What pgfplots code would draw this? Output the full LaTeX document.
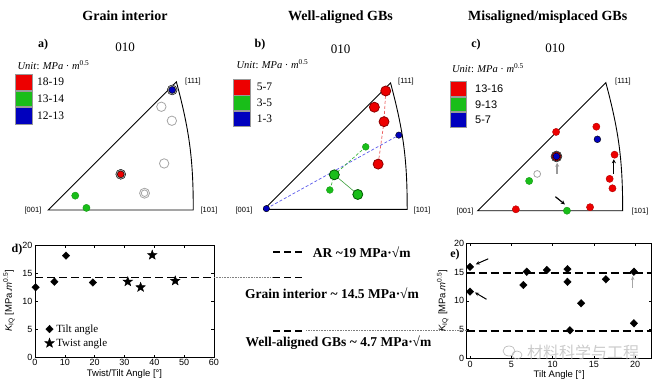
\documentclass[border=0pt]{standalone}
\usepackage{pgfplots}
\pgfplotsset{compat=1.18}
\usepackage{fontspec}
\setmainfont{Liberation Serif}
\setsansfont{Liberation Sans}
\newfontfamily\cjk{Noto Sans CJK SC}
\usetikzlibrary{arrows.meta}
\definecolor{ipfred}{RGB}{237,0,0}
\definecolor{ipfgreen}{RGB}{25,190,25}
\definecolor{ipfblue}{RGB}{0,0,190}
\definecolor{ringgray}{RGB}{165,165,165}

\pgfdeclareplotmark{fstar}{%
  \pgfpathmoveto{\pgfpointpolar{90}{\pgfplotmarksize}}%
  \pgfpathlineto{\pgfpointpolar{126}{0.42\pgfplotmarksize}}%
  \pgfpathlineto{\pgfpointpolar{162}{\pgfplotmarksize}}%
  \pgfpathlineto{\pgfpointpolar{198}{0.42\pgfplotmarksize}}%
  \pgfpathlineto{\pgfpointpolar{234}{\pgfplotmarksize}}%
  \pgfpathlineto{\pgfpointpolar{270}{0.42\pgfplotmarksize}}%
  \pgfpathlineto{\pgfpointpolar{306}{\pgfplotmarksize}}%
  \pgfpathlineto{\pgfpointpolar{342}{0.42\pgfplotmarksize}}%
  \pgfpathlineto{\pgfpointpolar{18}{\pgfplotmarksize}}%
  \pgfpathlineto{\pgfpointpolar{54}{0.42\pgfplotmarksize}}%
  \pgfpathclose
  \pgfusepathqfillstroke}

\pgfplotsset{
  ipf/.style={hide axis, clip=false, anchor=south west,
    xmin=0, xmax=0.4142, ymin=0, ymax=0.366},
  tbox/.style={scale only axis, anchor=south west, clip=false,
    axis line style={line width=0.6pt},
    tick align=inside, major tick length=2.5pt,
    tick style={black, line width=0.5pt},
    ticklabel style={font=\sffamily\fontsize{9}{10}\selectfont},
    xticklabel style={yshift=1pt},
    yticklabel style={xshift=1pt},
    /pgf/number format/assume math mode=true,
    label style={font=\sffamily\fontsize{9.5}{11}\selectfont},
    xlabel style={yshift=3pt},
    ylabel style={yshift=-1pt}},
  dmd/.style={only marks, mark=diamond*, mark size=3.8, black, mark options={xscale=1.3}},
}
\tikzset{
  outline/.style={line width=0.9pt, black},
  tit/.style={font=\bfseries\fontsize{14}{16}\selectfont, inner sep=0pt},
  pl/.style={font=\bfseries\fontsize{12}{14}\selectfont, inner sep=0pt},
  zz/.style={font=\fontsize{13}{15}\selectfont, inner sep=0pt},
  un/.style={font=\fontsize{10.5}{12}\selectfont, inner sep=0pt},
  lab/.style={font=\fontsize{11.5}{13}\selectfont, inner sep=0pt, anchor=west},
  labs/.style={font=\sffamily\fontsize{11}{13}\selectfont, inner sep=0pt, anchor=west},
  hkl/.style={font=\sffamily\fontsize{7.5}{9}\selectfont, inner sep=0pt},
  mid/.style={font=\bfseries\fontsize{13.5}{15}\selectfont, inner sep=0pt},
  lbox/.style={draw=gray!80, line width=0.7pt},
}

\begin{document}
\begin{tikzpicture}[x=1pt,y=1pt]
\useasboundingbox (0,0) rectangle (660,386);

% ---------- titles / labels top ----------
\node[tit] at (125,370) {Grain interior};
\node[tit] at (340.5,369) {Well-aligned GBs};
\node[tit] at (547.7,369) {Misaligned/misplaced GBs};
\node[pl] at (43,341) {a)};
\node[pl] at (260,341) {b)};
\node[pl] at (476,341) {c)};
\node[zz] at (125,339) {010};
\node[zz] at (340.7,337) {010};
\node[zz] at (555,338) {010};
\node[un] at (53.5,321) {\textit{Unit}: \textit{MPa} · \textit{m}\textsuperscript{0.5}};
\node[un] at (272.5,322) {\textit{Unit}: \textit{MPa} · \textit{m}\textsuperscript{0.5}};
\node[un] at (488,318) {\textit{Unit}: \textit{MPa} · \textit{m}\textsuperscript{0.5}};

% legend boxes
\filldraw[fill=ipfred, lbox] (15,296) rectangle (32.3,312);
\filldraw[fill=ipfgreen, lbox] (15,279.3) rectangle (32.3,295);
\filldraw[fill=ipfblue, lbox] (15,262) rectangle (32.3,278.3);
\node[lab] at (37,304) {18-19};
\node[lab] at (37,287) {13-14};
\node[lab] at (37,270) {12-13};

\filldraw[fill=ipfred, lbox] (233.3,291) rectangle (250.7,306.7);
\filldraw[fill=ipfgreen, lbox] (233.3,276) rectangle (250.7,290.3);
\filldraw[fill=ipfblue, lbox] (233.3,260) rectangle (250.7,275);
\node[lab] at (256.7,299) {5-7};
\node[lab] at (256.7,283) {3-5};
\node[lab] at (256.7,267) {1-3};

\filldraw[fill=ipfred, lbox] (450,289.3) rectangle (466.7,305);
\filldraw[fill=ipfgreen, lbox] (450,274.3) rectangle (466.7,288.7);
\filldraw[fill=ipfblue, lbox] (450,258.3) rectangle (466.7,273.3);
\node[labs] at (475,297) {13-16};
\node[labs] at (475,281) {9-13};
\node[labs] at (475,266) {5-7};

% hkl labels
\node[hkl] at (33,175) {[001]};
\node[hkl] at (209,175) {[101]};
\node[hkl] at (193,304) {[111]};
\node[hkl] at (244,175) {[001]};
\node[hkl] at (422,175) {[101]};
\node[hkl] at (406,304) {[111]};
\node[hkl] at (465,174) {[001]};
\node[hkl] at (640,174) {[101]};
\node[hkl] at (623,304) {[111]};

% ---------- panel a ----------
\begin{axis}[ipf, at={(48.3pt,176pt)}, x=350pt, y=350pt]
\draw[outline] (0,0) -- (0.4142,0) to[bend right=7.5] (0.366,0.366) -- cycle;
\addplot[only marks, mark=*, mark size=4.7, mark options={draw=ringgray, fill=white, line width=0.8pt}]
  coordinates {(0.323,0.295)(0.353,0.255)(0.331,0.133)};
\addplot[only marks, mark=*, mark size=5, mark options={draw=ringgray, fill=white, line width=0.8pt}]
  coordinates {(0.275,0.048)};
\addplot[only marks, mark=*, mark size=3.3, mark options={draw=ringgray, fill=white, line width=0.8pt}]
  coordinates {(0.275,0.048)};
\addplot[only marks, mark=*, mark size=5, mark options={draw=none, fill=ringgray}]
  coordinates {(0.354,0.343)(0.207,0.102)};
\addplot[only marks, mark=*, mark size=3.4, mark options={draw=none, fill=ipfblue}]
  coordinates {(0.354,0.343)};
\addplot[only marks, mark=*, mark size=3.4, mark options={draw=none, fill=ipfred}]
  coordinates {(0.207,0.102)};
\addplot[only marks, mark=*, mark size=3.6, mark options={draw=ipfgreen!80!black, fill=ipfgreen, line width=0.4pt}]
  coordinates {(0.077,0.041)(0.109,0.006)};
\end{axis}

% ---------- panel b ----------
\begin{axis}[ipf, at={(264.3pt,176.7pt)}, x=345pt, y=345pt]
\draw[outline] (0,0) -- (0.4142,0) to[bend right=7.5] (0.366,0.366) -- cycle;
\addplot[color={rgb,255:red,90;green,90;blue,235}, densely dashed, line width=0.7pt]
  coordinates {(0.006,0.002)(0.390,0.215)};
\addplot[color={rgb,255:red,235;green,90;blue,90}, densely dashed, line width=0.7pt]
  coordinates {(0.352,0.343)(0.347,0.254)(0.330,0.131)};
\addplot[color={rgb,255:red,60;green,180;blue,60}, densely dashed, line width=0.7pt]
  coordinates {(0.294,0.181)(0.203,0.100)(0.190,0.056)};
\addplot[color={rgb,255:red,60;green,160;blue,60}, line width=0.6pt]
  coordinates {(0.203,0.100)(0.271,0.043)};
\addplot[only marks, mark=*, mark size=5, mark options={draw=red!55!black, fill=ipfred, line width=0.8pt}]
  coordinates {(0.352,0.343)(0.319,0.296)(0.347,0.254)(0.330,0.131)};
\addplot[only marks, mark=*, mark size=5, mark options={draw=green!35!black, fill=ipfgreen, line width=0.8pt}]
  coordinates {(0.203,0.100)(0.271,0.043)};
\addplot[only marks, mark=*, mark size=3.4, mark options={draw=ipfgreen!80!black, fill=ipfgreen, line width=0.4pt}]
  coordinates {(0.294,0.181)(0.190,0.056)};
\addplot[only marks, mark=*, mark size=3.2, mark options={draw=none, fill=ipfblue}]
  coordinates {(0.390,0.215)(0.006,0.002)};
\end{axis}

% ---------- panel c ----------
\begin{axis}[ipf, at={(477.7pt,175.3pt)}, x=350pt, y=350pt]
\draw[outline] (0,0) -- (0.4142,0) to[bend right=7.5] (0.366,0.366) -- cycle;
\addplot[only marks, mark=*, mark size=5.5, mark options={draw=none, fill=ringgray}]
  coordinates {(0.225,0.155)};
\addplot[only marks, mark=*, mark size=3.6, mark options={draw=red!70!black, fill=ipfred, line width=0.4pt}]
  coordinates {(0.224,0.225)(0.339,0.240)(0.391,0.160)(0.377,0.091)(0.385,0.064)(0.109,0.004)(0.321,0.010)};
\addplot[only marks, mark=*, mark size=4.6, mark options={draw=none, fill=ipfred}]
  coordinates {(0.225,0.155)};
\addplot[only marks, mark=*, mark size=3.4, mark options={draw=none, fill=ipfblue}]
  coordinates {(0.342,0.204)(0.225,0.155)};
\addplot[only marks, mark=*, mark size=3.6, mark options={draw=ipfgreen!80!black, fill=ipfgreen, line width=0.4pt}]
  coordinates {(0.147,0.085)(0.255,0.000)};
\addplot[only marks, mark=*, mark size=3.4, mark options={draw=ringgray, fill=white, line width=0.8pt}]
  coordinates {(0.170,0.105)};
\draw[-{Stealth[length=4pt,width=4pt]}, gray!80, line width=1.4pt] (0.227,0.105) -- (0.227,0.137);
\draw[-{Stealth[length=4pt,width=4pt]}, black, line width=1.2pt] (0.389,0.105) -- (0.389,0.147);
\draw[-{Stealth[length=4pt,width=4pt]}, black, line width=1.2pt] (0.222,0.040) -- (0.249,0.018);
\end{axis}

% ---------- panel d ----------
\node[pl] at (17,136) {d)};
\begin{axis}[tbox, at={(35pt,29pt)}, width=179pt, height=112pt,
  xmin=0, xmax=60, ymin=0, ymax=20,
  xtick={0,10,...,60}, ytick={0,5,...,20},
  xlabel={Twist/Tilt Angle [°]},
  ylabel={\textit{K}\textsubscript{IQ} [MPa.\textit{m}\textsuperscript{0.5}]},
  ylabel style={yshift=2pt},
  legend style={draw=none, fill=none, at={(axis cs:2.2,0.9)}, anchor=south west,
    font=\rmfamily\fontsize{11}{12}\selectfont, row sep=1pt},
  legend cell align=left]
\addplot[forget plot, black, line width=1.8pt, dash pattern=on 8pt off 4pt]
  coordinates {(0,14.2)(60,14.2)};
\addplot[dmd]
  coordinates {(0.2,12.45)(6.5,13.45)(10.4,18.1)(19.4,13.3)};
\addplot[only marks, mark=fstar, mark size=5, black]
  coordinates {(31.1,13.45)(35.4,12.45)(39.3,18.2)(47,13.6)};
\legend{Tilt angle, Twist angle}
\draw[densely dotted, gray, line width=0.6pt] (60,14.2) -- ++(58pt,0);
\end{axis}

% ---------- panel e ----------
\node[pl] at (455,131) {e)};
\begin{axis}[tbox, at={(466.7pt,27.7pt)}, width=185pt, height=115pt,
  xmin=-0.4, xmax=22, ymin=0, ymax=20,
  xtick={0,5,...,20}, ytick={0,5,...,20},
  xlabel={Tilt Angle [°]},
  ylabel={\textit{K}\textsubscript{IQ} [MPa.\textit{m}\textsuperscript{0.5}]}]
\addplot[black, line width=1.8pt, dash pattern=on 8pt off 4pt]
  coordinates {(-0.4,14.8)(22,14.8)};
\addplot[black, line width=1.8pt, dash pattern=on 8pt off 4pt]
  coordinates {(-0.4,4.8)(22,4.8)};
\addplot[dmd]
  coordinates {(0,15.9)(0,11.6)(6.46,12.75)(6.87,15.06)(9.3,15.36)(11.8,15.5)(11.8,13.3)(12.1,4.87)(13.45,9.57)(16.45,13.74)(19.85,15.06)(19.85,6.09)};
\draw[-{Stealth[length=4pt,width=3.5pt]}, black, line width=1pt] (2.2,17.3) -- (0.7,16.35);
\draw[-{Stealth[length=4pt,width=3.5pt]}, black, line width=1pt] (2.0,10.26) -- (0.6,11.45);
\draw[-{Stealth[length=4pt,width=3.5pt]}, gray!70, line width=1pt] (19.7,12.2) -- (19.7,14.3);
\draw[densely dotted, gray, line width=0.6pt] (-0.4,4.8) -- ++(-164.7pt,0);
\end{axis}

% ---------- middle annotations ----------
\draw[line width=1.8pt, dash pattern=on 7pt off 4pt] (273,134) -- (302,134);
\draw[line width=1.8pt, dash pattern=on 7pt off 4pt] (273,108.5) -- (302,108.5);
\draw[line width=1.8pt, dash pattern=on 7pt off 4pt] (273,55.3) -- (302,55.3);
\node[mid, anchor=west] at (312.7,134) {AR \textasciitilde19 MPa·√m};
\node[mid] at (332,93) {Grain interior \textasciitilde\ 14.5 MPa·√m};
\node[mid] at (338.5,43) {Well-aligned GBs \textasciitilde\ 4.7 MPa·√m};

% watermark
\draw[gray!60, line width=0.6pt] (509,35) ellipse (6pt and 5pt);
\draw[gray!60, line width=0.6pt] (517,31) ellipse (5pt and 4pt);
\node[font=\cjk\fontsize{16}{18}\selectfont, text=gray!55, opacity=0.75, inner sep=0pt] at (583,34) {材料科学与工程};
\end{tikzpicture}
\end{document}
